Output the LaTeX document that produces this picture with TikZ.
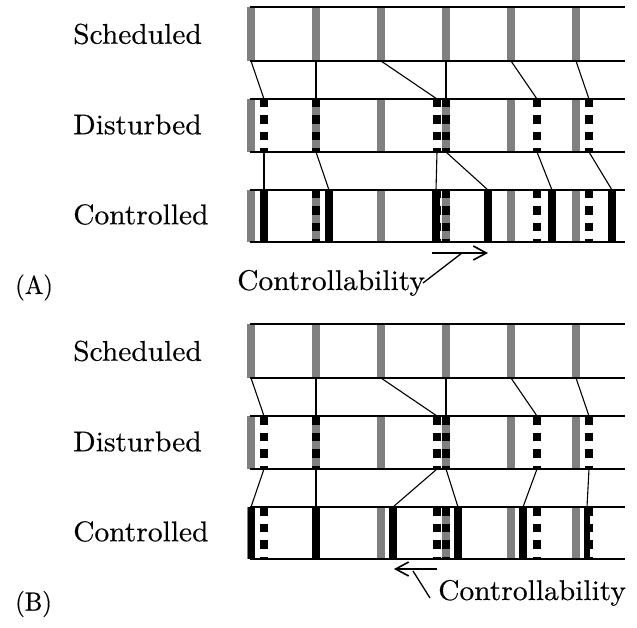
\documentclass[tikz,border=0pt]{standalone}
\usepackage{fontspec}
\newfontfamily\lblfont{lmroman10-regular.otf}[FakeBold=0.35]
\usetikzlibrary{arrows.meta}
\definecolor{barGray}{RGB}{128,128,128}
\newcommand{\widetxt}[1]{\scalebox{1.035}[1]{#1}}
\tikzset{
  rowline/.style={line width=1.4pt},
  linkline/.style={line width=1.1pt},
  graybar/.style={fill=barGray},
  solidbar/.style={fill=black},
  dashbar/.style={draw=black, line width=7.5pt, dash pattern=on 8.5pt off 8pt},
  lbl/.style={anchor=west, inner sep=0pt, font=\lblfont\fontsize{28.5}{34}\selectfont},
  panlbl/.style={anchor=west, inner sep=0pt, font=\lblfont\fontsize{26}{31}\selectfont},
  ctrltxt/.style={anchor=base west, inner sep=0pt, font=\lblfont\fontsize{28.5}{34}\selectfont},
  ctrlarrow/.style={line width=1.6pt, -{Straight Barb[length=13pt,width=14pt,line width=1.6pt]}},
  pointer/.style={line width=1.3pt},
}
\begin{document}
\begin{tikzpicture}[x=1pt,y=-1pt]
\useasboundingbox[fill=white] (0,0) rectangle (637,628);

\foreach \oy/\pn in {0/A, 317/B} {
  % gray (scheduled) bars in all three rows
  \foreach \x in {251,316,381,446,511,576} {
    \foreach \t/\b in {7/61, 99/152, 190/242}
      \fill[graybar] (\x-3.75,\t+\oy) rectangle (\x+3.75,\b+\oy);
  }
  % disturbed (dashed) bars in disturbed and controlled rows
  \foreach \x in {264,316,437,446,537,589} {
    \foreach \t/\b in {99/152, 190/242}
      \draw[dashbar] (\x,\t+\oy) -- (\x,\b+\oy);
  }
  % row borders
  \foreach \yy in {7,61,99,152,190,242}
    \draw[rowline] (250,\yy+\oy) -- (625,\yy+\oy);
  % scheduled -> disturbed links
  \foreach \a/\b in {251/264,316/316,381/437,446/446,511/537,576/589}
    \draw[linkline] (\a,61+\oy) -- (\b,99+\oy);
  % row labels
  \node[lbl] (sch\pn) at (73,34+\oy) {\widetxt{Scheduled}};
  \node[lbl] (dis\pn) at (73,124.5+\oy) {\widetxt{Disturbed}};
  \node[lbl] (con\pn) at (73,214.5+\oy) {\widetxt{Controlled}};
}

% ---- panel A controlled ----
\foreach \x in {264,329,436,488,552,612}
  \fill[solidbar] (\x-4,190) rectangle (\x+4,242);
\foreach \a/\b in {264/264,316/329,437/436,446/488,537/552,589/612}
  \draw[linkline] (\a,152) -- (\b,190);

% ---- panel B controlled ----
\foreach \x/\w in {251/3.5,316/3.8,393/4,458/4,523/4,587/3}
  \fill[solidbar] (\x-\w,507) rectangle (\x+\w,559);
\foreach \a/\b in {264/251,316/316,437/393,446/458,537/523,589/587}
  \draw[linkline] (\a,469) -- (\b,507);

% ---- panel labels ----
\node[panlbl] (panA) at (15,287.5) {\scalebox{0.95}[1]{(A)}};
\node[panlbl] (panB) at (15,604) {\scalebox{0.95}[1]{(B)}};

% ---- controllability A ----
\coordinate (aAs) at (432,253);
\coordinate (aAe) at (488,253);
\coordinate (aAm) at (462,253);
\node[ctrltxt] (ctrlA) at (237,290) {\widetxt{Controllability}};
\coordinate (tA) at (423,283);
\draw[ctrlarrow] (aAs) -- (aAe);
\draw[pointer] (tA) -- (aAm);

% ---- controllability B ----
\coordinate (aBs) at (437,569);
\coordinate (aBe) at (394,569);
\coordinate (aBm) at (413,571);
\node[ctrltxt] (ctrlB) at (438,600) {\widetxt{Controllability}};
\coordinate (tB) at (430,598);
\draw[ctrlarrow] (aBs) -- (aBe);
\draw[pointer] (tB) -- (aBm);
\end{tikzpicture}
\end{document}
